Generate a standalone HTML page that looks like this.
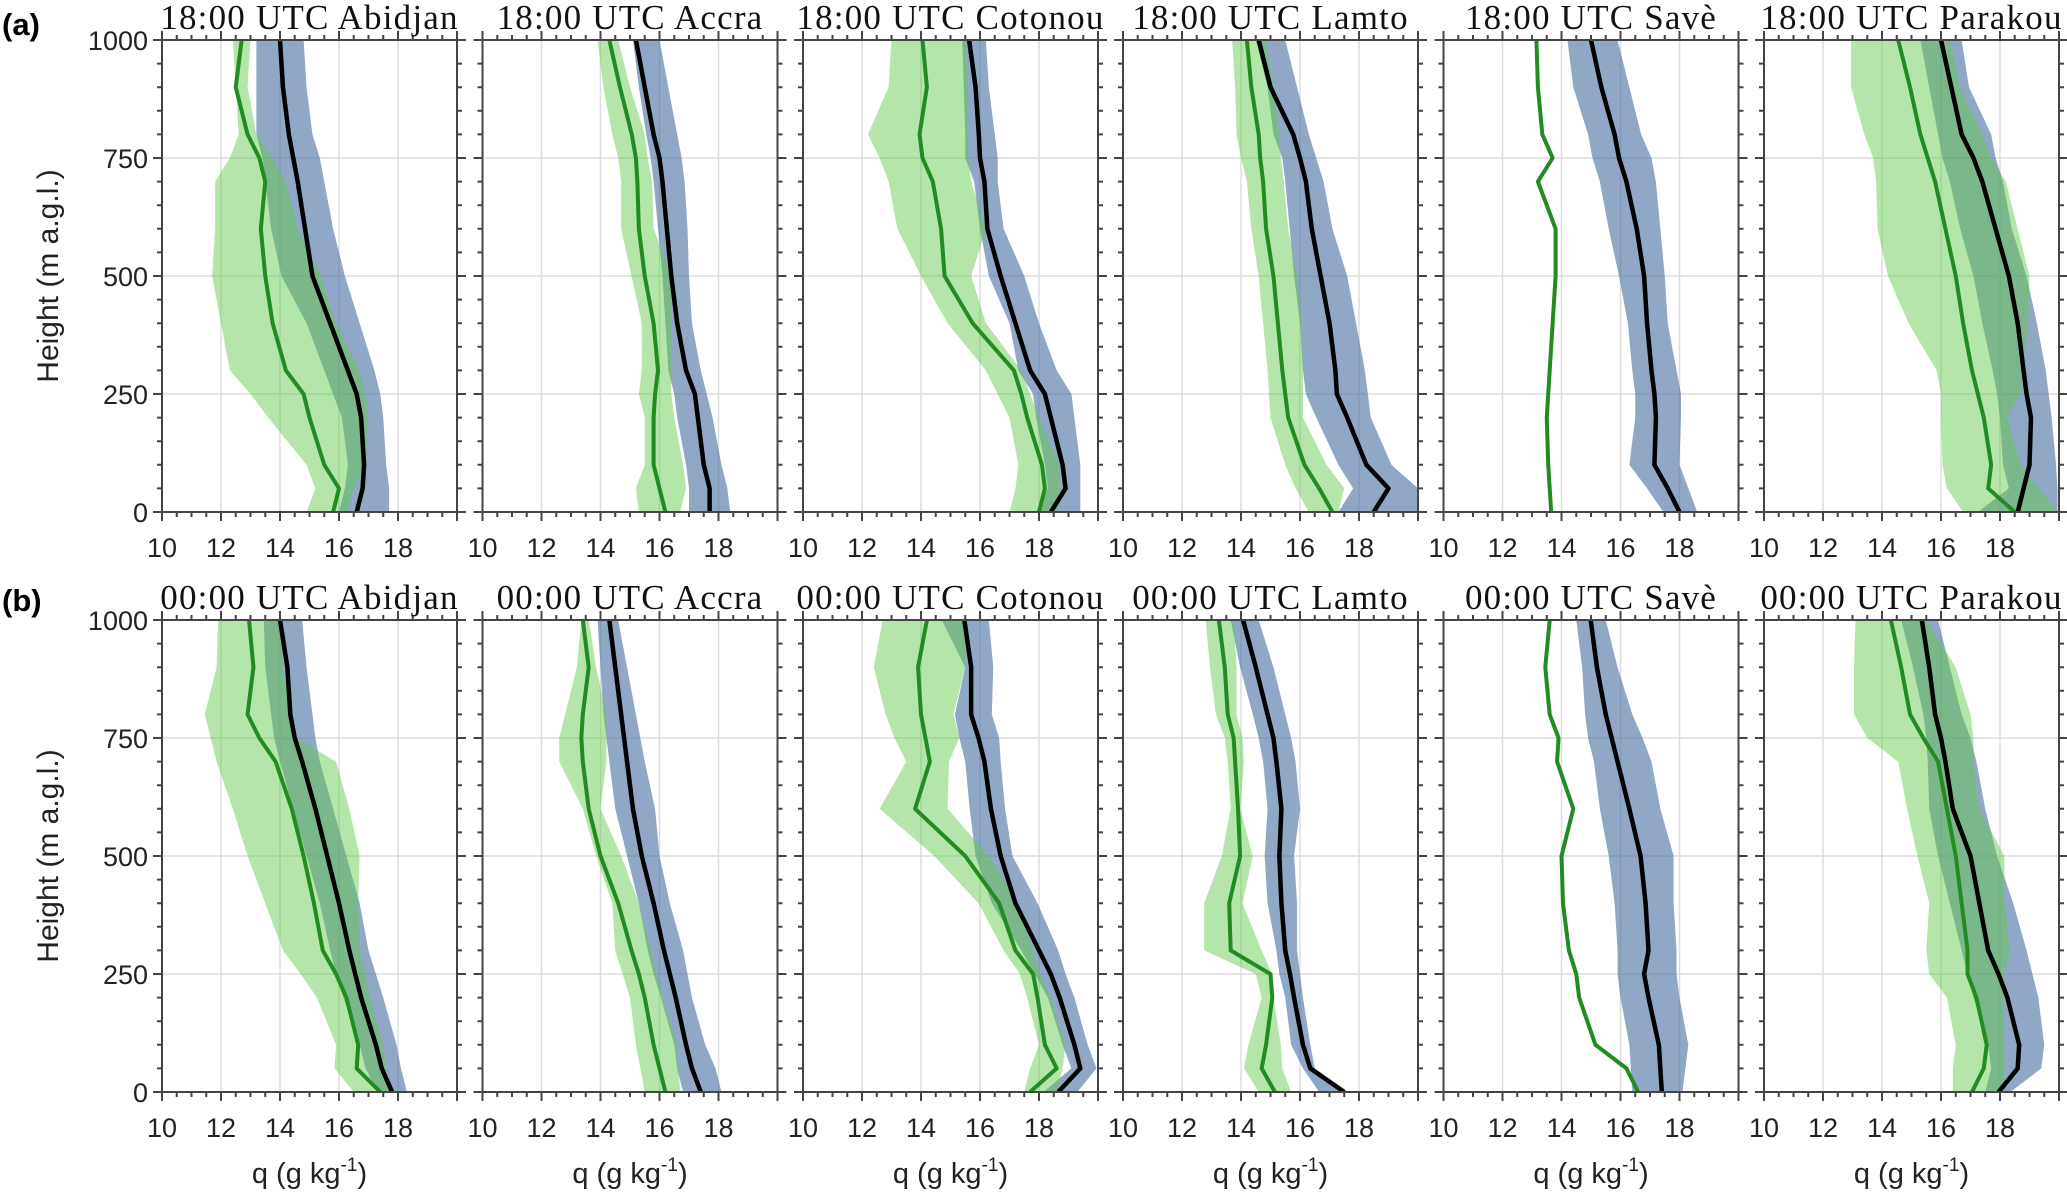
<!DOCTYPE html>
<html><head><meta charset="utf-8"><style>
html,body{margin:0;padding:0;background:#fff;}
svg{display:block;}
</style></head><body>
<svg id="chart" width="2067" height="1197" viewBox="0 0 2067 1197" xmlns="http://www.w3.org/2000/svg">
<text x="2" y="35" font-family="Liberation Sans, sans-serif" font-weight="bold" font-size="31">(a)</text>
<text x="2" y="611" font-family="Liberation Sans, sans-serif" font-weight="bold" font-size="31">(b)</text>
<g id="plots"></g>
</svg>
<script>
// shared
const heights = [0,50,100,200,250,300,400,500,600,700,750,800,900,1000];
const xTicks = [10,12,14,16,18];
const yTicks = [0,250,500,750,1000];
const stations = ["Abidjan","Accra","Cotonou","Lamto","Savè","Parakou"];
const times = ["18:00 UTC","00:00 UTC"];

// row a (18:00 UTC)
const a1ObsMean=[16.6,16.8,16.85,16.75,16.6,16.3,15.7,15.1,14.85,14.6,14.45,14.3,14.1,14.0];
const a1ObsLo=[16.0,16.2,16.3,16.1,15.8,15.5,14.9,14.05,13.7,13.5,13.4,13.2,13.2,13.2];
const a1ObsHi=[17.7,17.7,17.6,17.5,17.4,17.2,16.7,16.2,15.8,15.5,15.35,15.1,14.9,14.8];
const a1ModMean=[15.8,16.0,15.5,15.0,14.8,14.2,13.75,13.5,13.35,13.5,13.3,12.9,12.5,12.7];
const a1ModLo=[14.9,15.2,14.9,13.6,13.0,12.3,12.0,11.7,11.8,11.8,12.3,12.6,12.5,12.4];
const a1ModHi=[16.3,16.5,16.9,17.0,16.9,16.7,15.9,15.4,14.6,14.2,13.75,13.2,12.9,13.0];

const a2ObsMean=[17.7,17.7,17.5,17.3,17.2,16.9,16.6,16.4,16.25,16.1,16.0,15.8,15.5,15.2];
const a2ObsLo=[17.0,17.0,16.9,16.6,16.5,16.3,16.2,16.1,15.95,15.8,15.7,15.55,15.3,15.1];
const a2ObsHi=[18.4,18.3,18.1,17.8,17.6,17.4,17.1,17.0,16.95,16.85,16.75,16.6,16.3,16.0];
const a2ModMean=[16.2,16.0,15.8,15.8,15.85,15.95,15.8,15.5,15.3,15.25,15.2,15.06,14.66,14.3];
const a2ModLo=[15.3,15.2,15.5,15.5,15.3,15.4,15.4,15.05,14.7,14.7,14.6,14.4,14.1,13.9];
const a2ModHi=[16.7,16.9,16.8,16.5,16.4,16.4,16.4,16.4,15.8,15.75,15.6,15.5,15.0,14.6];

const a3ObsMean=[18.4,18.9,18.8,18.4,18.2,17.7,17.2,16.7,16.25,16.15,16.0,15.96,15.85,15.63];
const a3ObsLo=[17.9,18.3,18.2,17.9,17.8,17.3,17.0,16.3,16.0,15.8,15.5,15.5,15.45,15.4];
const a3ObsHi=[19.4,19.4,19.4,19.2,19.1,18.6,18.0,17.5,16.8,16.6,16.6,16.5,16.3,16.2];
const a3ModMean=[18.0,18.2,18.1,17.6,17.4,17.15,15.75,14.8,14.68,14.4,14.05,13.95,14.2,14.05];
const a3ModLo=[17.0,17.2,17.3,17.0,16.6,16.2,14.9,14.0,13.2,12.9,12.6,12.2,12.9,13.0];
const a3ModHi=[18.6,18.7,18.7,18.0,17.7,17.4,16.2,15.7,16.2,15.7,15.6,15.6,15.6,15.5];

const a4ObsMean=[18.5,19.0,18.25,17.6,17.25,17.2,17.0,16.7,16.4,16.2,16.0,15.77,15.0,14.6];
const a4ObsLo=[17.3,17.8,17.3,16.55,16.2,16.1,16.0,15.8,15.65,15.5,15.4,15.1,14.9,14.5];
const a4ObsHi=[20.0,20.0,19.1,18.4,18.3,18.2,17.9,17.6,17.1,16.8,16.55,16.3,15.9,15.5];
const a4ModMean=[17.1,16.65,16.15,15.6,15.5,15.4,15.25,15.1,14.85,14.75,14.65,14.6,14.35,14.2];
const a4ModLo=[16.3,15.85,15.5,15.0,14.95,14.9,14.75,14.6,14.35,14.2,14.0,13.85,13.8,13.7];
const a4ModHi=[17.3,17.5,16.9,16.1,16.1,16.1,16.05,15.9,15.6,15.45,15.35,15.3,15.1,14.85];

const a5ObsMean=[18.0,17.6,17.15,17.2,17.15,17.05,16.9,16.8,16.55,16.2,15.95,15.8,15.35,15.0];
const a5ObsLo=[17.45,16.9,16.3,16.5,16.5,16.4,16.25,15.95,15.6,15.3,15.05,14.9,14.4,14.2];
const a5ObsHi=[18.6,18.3,18.0,18.05,18.05,17.9,17.6,17.5,17.35,17.2,17.05,16.7,16.3,15.9];
const a5ModMean=[13.65,13.6,13.55,13.5,13.55,13.6,13.7,13.8,13.8,13.2,13.7,13.35,13.2,13.15];
const a5ModLo=null;
const a5ModHi=null;

const a6ObsMean=[18.6,18.8,19.0,19.05,18.9,18.8,18.6,18.3,17.85,17.4,17.1,16.7,16.35,16.0];
const a6ObsLo=[17.25,18.3,18.1,18.0,17.9,17.75,17.4,17.1,16.65,16.3,16.05,15.9,15.6,15.3];
const a6ObsHi=[19.95,19.95,19.9,19.75,19.65,19.55,19.25,18.9,18.4,18.1,17.85,17.7,16.95,16.7];
const a6ModMean=[18.5,17.6,17.7,17.45,17.25,17.05,16.75,16.5,16.15,15.8,15.55,15.3,14.95,14.55];
const a6ModLo=[16.75,16.2,16.05,16.0,16.0,15.85,14.9,14.2,13.85,13.8,13.7,13.4,12.95,12.95];
const a6ModHi=[20.0,19.3,18.7,18.25,18.7,18.8,18.95,19.0,18.6,18.2,17.7,17.4,16.65,16.3];

// row b (00:00 UTC)
const b1ObsMean=[17.8,17.45,17.25,16.75,16.55,16.35,16.0,15.6,15.2,14.75,14.5,14.35,14.25,14.0];
const b1ObsLo=[17.3,16.9,16.7,16.15,15.9,15.7,15.35,14.9,14.45,14.0,13.8,13.7,13.5,13.45];
const b1ObsHi=[18.3,18.1,17.95,17.5,17.25,17.0,16.7,16.25,15.8,15.35,15.2,15.1,14.9,14.75];
const b1ModMean=[17.4,16.6,16.65,16.25,15.9,15.45,15.15,14.8,14.4,13.85,13.3,12.9,13.1,12.95];
const b1ModLo=[16.5,15.85,15.9,15.25,14.7,14.1,13.5,12.9,12.4,11.85,11.65,11.45,11.85,11.9];
const b1ModHi=[17.8,17.6,17.5,17.05,16.9,16.7,16.65,16.7,16.35,15.9,14.55,14.35,14.1,14.0];

const b2ObsMean=[17.4,17.1,16.9,16.55,16.35,16.15,15.8,15.4,15.1,14.9,14.8,14.7,14.5,14.3];
const b2ObsLo=[16.8,16.6,16.5,16.05,15.8,15.6,15.3,14.9,14.5,14.3,14.2,14.1,14.0,13.9];
const b2ObsHi=[18.1,17.9,17.55,17.1,16.95,16.8,16.35,16.0,15.85,15.5,15.35,15.2,14.9,14.6];
const b2ModMean=[16.2,16.0,15.8,15.5,15.3,15.05,14.6,14.0,13.6,13.4,13.35,13.4,13.6,13.4];
const b2ModLo=[15.5,15.35,15.2,15.0,14.75,14.5,14.4,13.85,13.4,12.6,12.6,12.8,13.2,13.35];
const b2ModHi=[16.7,16.65,16.6,16.1,15.9,15.7,15.3,14.7,14.0,14.2,14.2,14.2,13.85,13.6];

const b3ObsMean=[18.65,19.4,19.2,18.7,18.4,18.0,17.2,16.7,16.37,16.15,15.95,15.7,15.7,15.47];
const b3ObsLo=[18.15,19.1,18.8,18.3,17.85,17.4,16.4,15.85,15.65,15.5,15.3,15.15,15.5,14.7];
const b3ObsHi=[19.3,19.95,19.65,19.2,18.9,18.65,17.95,17.1,16.85,16.7,16.65,16.4,16.45,16.3];
const b3ModMean=[17.7,18.6,18.2,17.95,17.8,17.2,16.65,15.5,13.8,14.3,14.15,14.0,13.9,14.2];
const b3ModLo=[17.5,17.7,18.0,17.6,17.35,16.8,15.95,14.45,12.6,13.5,13.1,12.8,12.4,12.7];
const b3ModHi=[18.6,18.8,18.9,18.4,18.05,17.8,17.3,16.3,14.9,14.95,15.3,15.1,15.5,15.5];

const b4ObsMean=[17.5,16.35,16.1,15.8,15.66,15.5,15.37,15.3,15.37,15.2,15.1,14.9,14.5,14.07];
const b4ObsLo=[16.65,16.1,15.7,15.5,15.3,15.2,14.9,14.8,14.9,14.75,14.6,14.4,13.97,13.65];
const b4ObsHi=[17.6,16.5,16.35,16.1,16.0,15.9,15.9,15.8,16.0,15.85,15.7,15.5,15.1,14.6];
const b4ModMean=[15.15,14.7,14.85,15.06,15.0,13.65,13.6,13.97,13.9,13.8,13.75,13.55,13.45,13.25];
const b4ModLo=[14.6,14.1,14.25,14.7,14.5,12.75,12.75,13.35,13.65,13.55,13.45,13.15,12.95,12.8];
const b4ModHi=[15.7,15.4,15.35,15.1,15.05,14.7,14.05,14.4,13.97,14.1,14.05,13.85,13.85,13.75];

const b5ObsMean=[17.4,17.35,17.3,16.95,16.8,16.95,16.85,16.68,16.3,15.9,15.7,15.5,15.2,14.99];
const b5ObsLo=[16.4,16.35,16.3,16.0,15.9,15.9,15.8,15.6,15.3,15.1,14.9,14.8,14.7,14.5];
const b5ObsHi=[18.1,18.2,18.3,18.0,17.9,17.9,17.8,17.8,17.35,17.05,16.75,16.4,15.9,15.5];
const b5ModMean=[16.6,16.2,15.15,14.6,14.5,14.25,14.05,14.0,14.4,13.85,13.9,13.6,13.45,13.6];
const b5ModLo=null;
const b5ModHi=null;

const b6ObsMean=[17.95,18.6,18.65,18.25,17.95,17.6,17.3,17.0,16.4,16.15,16.0,15.8,15.6,15.35];
const b6ObsLo=[17.5,17.7,17.6,17.1,16.9,16.7,16.3,15.9,15.6,15.55,15.5,15.4,15.05,14.65];
const b6ObsHi=[18.35,19.4,19.5,19.3,19.1,18.9,18.45,17.9,17.5,17.2,17.0,16.7,16.3,15.9];
const b6ModMean=[17.05,17.45,17.55,17.2,16.9,16.9,16.7,16.5,16.2,15.9,15.4,14.95,14.65,14.3];
const b6ModLo=[16.4,16.4,16.5,16.2,15.6,15.5,15.6,15.2,14.85,14.55,13.5,13.05,13.05,13.1];
const b6ModHi=[18.15,18.15,18.15,18.15,18.15,18.35,18.15,18.15,17.3,17.1,17.1,17.0,16.5,15.5];

const panels = [
 [a1ObsMean,a1ObsLo,a1ObsHi,a1ModMean,a1ModLo,a1ModHi],
 [a2ObsMean,a2ObsLo,a2ObsHi,a2ModMean,a2ModLo,a2ModHi],
 [a3ObsMean,a3ObsLo,a3ObsHi,a3ModMean,a3ModLo,a3ModHi],
 [a4ObsMean,a4ObsLo,a4ObsHi,a4ModMean,a4ModLo,a4ModHi],
 [a5ObsMean,a5ObsLo,a5ObsHi,a5ModMean,a5ModLo,a5ModHi],
 [a6ObsMean,a6ObsLo,a6ObsHi,a6ModMean,a6ModLo,a6ModHi],
 [b1ObsMean,b1ObsLo,b1ObsHi,b1ModMean,b1ModLo,b1ModHi],
 [b2ObsMean,b2ObsLo,b2ObsHi,b2ModMean,b2ModLo,b2ModHi],
 [b3ObsMean,b3ObsLo,b3ObsHi,b3ModMean,b3ModLo,b3ModHi],
 [b4ObsMean,b4ObsLo,b4ObsHi,b4ModMean,b4ModLo,b4ModHi],
 [b5ObsMean,b5ObsLo,b5ObsHi,b5ModMean,b5ModLo,b5ModHi],
 [b6ObsMean,b6ObsLo,b6ObsHi,b6ModMean,b6ModLo,b6ModHi]
];

const NS="http://www.w3.org/2000/svg";
const root=document.getElementById("plots");
function mk(tag,attrs,parent){const e=document.createElementNS(NS,tag);for(const k in attrs)e.setAttribute(k,attrs[k]);(parent||root).appendChild(e);return e;}

const PW=295, lefts=[162,482.5,803,1123,1443.5,1764], tops=[40,620], PH=472;
const XMIN=10,XMAX=20,YMAX=1000;

for(let p=0;p<12;p++){
  const row=Math.floor(p/6), col=p%6;
  const L=lefts[col], T=tops[row], B=T+PH, R=L+PW;
  const sx=v=>L+(v-XMIN)/(XMAX-XMIN)*PW;
  const sy=h=>B-h/YMAX*PH;
  const g=mk("g",{});
  
  
  for(const t of xTicks){ if(t===XMIN) continue; const l=mk("line",{x1:sx(t),x2:sx(t),y1:T,y2:B,stroke:"#ddd","stroke-width":1.5},g);
      }
  for(const t of yTicks){ if(t===0||t===YMAX) continue; const l=mk("line",{x1:L,x2:R,y1:sy(t),y2:sy(t),stroke:"#ddd","stroke-width":1.5},g);
      }
  const d=panels[p];
  const band=(lo,hi)=>{let s="";for(let i=0;i<heights.length;i++)s+=(i?"L":"M")+sx(Math.min(XMAX,hi[i]))+","+sy(heights[i]);for(let i=heights.length-1;i>=0;i--)s+="L"+sx(Math.min(XMAX,lo[i]))+","+sy(heights[i]);return s+"Z";};
  const line=(m)=>{let s="";for(let i=0;i<heights.length;i++)s+=(i?"L":"M")+sx(m[i])+","+sy(heights[i]);return s;};
  const cp=mk("clipPath",{id:"cp"+p},g); mk("rect",{x:L,y:T,width:PW,height:PH},cp);
  const pg=mk("g",{"clip-path":"url(#cp"+p+")"},g);
  const ob=mk("path",{d:band(d[1],d[2]),fill:"rgb(70,110,160)","fill-opacity":0.6},pg);
   
  if(d[4]&&d[5]){const mb=mk("path",{d:band(d[4],d[5]),fill:"rgb(98,203,77)","fill-opacity":0.48},pg);
     }
  const ml=mk("path",{d:line(d[3]),fill:"none",stroke:"#228b22","stroke-width":4,"stroke-linejoin":"round"},pg);
   
  const ol=mk("path",{d:line(d[0]),fill:"none",stroke:"#000","stroke-width":4.5,"stroke-linejoin":"round"},pg);
   
  const fr=mk("rect",{x:L,y:T,width:PW,height:PH,fill:"none",stroke:"#444","stroke-width":2},g);
   
  let ts="";
  for(let v=XMIN;v<=XMAX+0.001;v+=0.5){const x=sx(v);const major=Math.abs(v/2-Math.round(v/2))<0.01;const len=major?9:5;
    ts+="M"+x+","+B+"v"+len+"M"+x+","+T+"v"+(-len);}
  for(let h=0;h<=YMAX;h+=50){const y=sy(h);const len=(h%250===0)?9:5;ts+="M"+L+","+y+"h"+(-len)+"M"+R+","+y+"h"+len;}
  const tk=mk("path",{d:ts,stroke:"#444","stroke-width":2,fill:"none"},g);
   
  for(const t of xTicks){const tx=mk("text",{x:sx(t),y:B+45,"text-anchor":"middle","font-family":"Liberation Sans, sans-serif","font-size":27,fill:"#222"},g);
    tx.textContent=t;  }
  if(col===0){
    for(const t of yTicks){const tx=mk("text",{x:L-14,y:sy(t)+10,"text-anchor":"end","font-family":"Liberation Sans, sans-serif","font-size":27,fill:"#222"},g);
      tx.textContent=t;  }
    const yl=mk("text",{x:0,y:0,transform:"translate(58,"+(T+PH/2)+") rotate(-90)","text-anchor":"middle","font-family":"Liberation Sans, sans-serif","font-size":30,fill:"#222"},g);
    yl.textContent="Height (m a.g.l.)";  
  }
  const ti=mk("text",{x:L+PW/2,y:T-11,"text-anchor":"middle","font-family":"Liberation Serif, serif","font-size":35,"letter-spacing":"1.2",fill:"#111"},g);
  ti.textContent=times[row]+" "+stations[col];  
  if(row===1){
    const xl=mk("text",{x:L+PW/2,y:1183,"text-anchor":"middle","font-family":"Liberation Sans, sans-serif","font-size":29,fill:"#222"},g);
     
    xl.innerHTML='q (g kg<tspan dy="-12" font-size="19">-1</tspan><tspan dy="12">)</tspan>';
  }
}
</script>
</body></html>
